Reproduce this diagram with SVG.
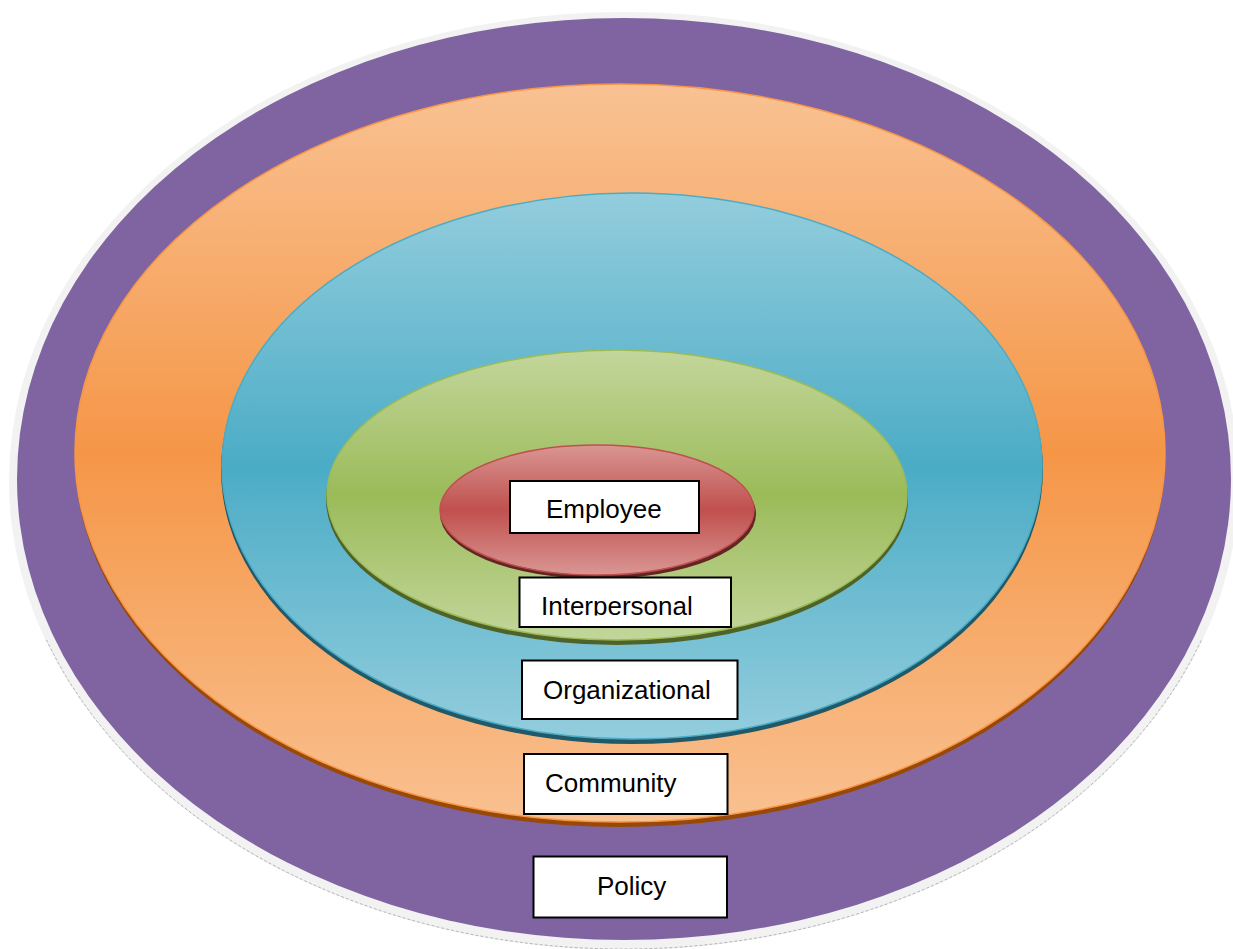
<svg xmlns="http://www.w3.org/2000/svg" width="1233" height="949" viewBox="0 0 1233 949">
<defs>
<linearGradient id="gOrange" x1="0" y1="0" x2="0" y2="1">
<stop offset="0" stop-color="#F9C293"/><stop offset="0.5" stop-color="#F59647"/><stop offset="1" stop-color="#F9C191"/>
</linearGradient>
<linearGradient id="gBlue" x1="0" y1="0" x2="0" y2="1">
<stop offset="0" stop-color="#93CDDD"/><stop offset="0.5" stop-color="#4BACC6"/><stop offset="1" stop-color="#93CDDD"/>
</linearGradient>
<linearGradient id="gGreen" x1="0" y1="0" x2="0" y2="1">
<stop offset="0" stop-color="#C3D69B"/><stop offset="0.5" stop-color="#9BBB59"/><stop offset="1" stop-color="#C3D69B"/>
</linearGradient>
<linearGradient id="gRed" x1="0" y1="0" x2="0" y2="1">
<stop offset="0" stop-color="#D99694"/><stop offset="0.5" stop-color="#C0504D"/><stop offset="1" stop-color="#D99694"/>
</linearGradient>
<clipPath id="clipInter"><rect x="519" y="577" width="212" height="38.5"/></clipPath>
<clipPath id="clipLow"><rect x="0" y="640" width="1233" height="309"/></clipPath>
</defs>
<style>
.box{fill:#FFFFFF;stroke:#000000;stroke-width:2}
.lbl{font-family:"Liberation Sans",Arial,sans-serif;font-size:26px;fill:#000000}
</style>
<g id="policy-ring">
<ellipse cx="624" cy="481" rx="615" ry="469" fill="#F2F2F2"/>
<ellipse cx="624" cy="481" rx="614" ry="468" fill="none" stroke="#8A8A8A" stroke-width="1" stroke-dasharray="3 2" opacity="0.6" clip-path="url(#clipLow)"/>
<ellipse cx="624" cy="479" rx="607" ry="461" fill="#8064A2"/>
</g>
<g id="community-ring">
<ellipse cx="620" cy="457" rx="545" ry="370" fill="#984807"/>
<ellipse cx="620" cy="453" rx="545" ry="369" fill="url(#gOrange)" stroke="#F79646" stroke-width="1.5"/>
</g>
<g id="organizational-ring">
<ellipse cx="632" cy="470" rx="411" ry="274" fill="#215968"/>
<ellipse cx="632" cy="466" rx="410" ry="273" fill="url(#gBlue)" stroke="#4BACC6" stroke-width="1.5"/>
</g>
<g id="interpersonal-ring">
<ellipse cx="617" cy="499" rx="291" ry="146" fill="#4F6228"/>
<ellipse cx="617" cy="495" rx="290" ry="145" fill="url(#gGreen)" stroke="#9BBB59" stroke-width="1.5"/>
</g>
<g id="employee-ring">
<ellipse cx="598" cy="514" rx="158" ry="65" fill="#632523"/>
<ellipse cx="597" cy="510" rx="157" ry="65" fill="url(#gRed)" stroke="#C0504D" stroke-width="1.5"/>
</g>
<g id="connectors"/>
<g id="label-employee">
<rect class="box" x="510" y="481" width="189" height="52"/>
<text class="lbl" x="546" y="518">Employee</text>
</g>
<g id="label-interpersonal">
<rect class="box" x="519.5" y="577.5" width="211.5" height="49.5"/>
<text class="lbl" x="541" y="615" clip-path="url(#clipInter)">Interpersonal</text>
</g>
<g id="label-organizational">
<rect class="box" x="522" y="660.5" width="215.5" height="58.5"/>
<text class="lbl" x="543" y="699">Organizational</text>
</g>
<g id="label-community">
<rect class="box" x="524" y="754" width="203.5" height="60"/>
<text class="lbl" x="545" y="792">Community</text>
</g>
<g id="label-policy">
<rect class="box" x="533.5" y="856.5" width="193.5" height="61"/>
<text class="lbl" x="597" y="895">Policy</text>
</g>
</svg>
